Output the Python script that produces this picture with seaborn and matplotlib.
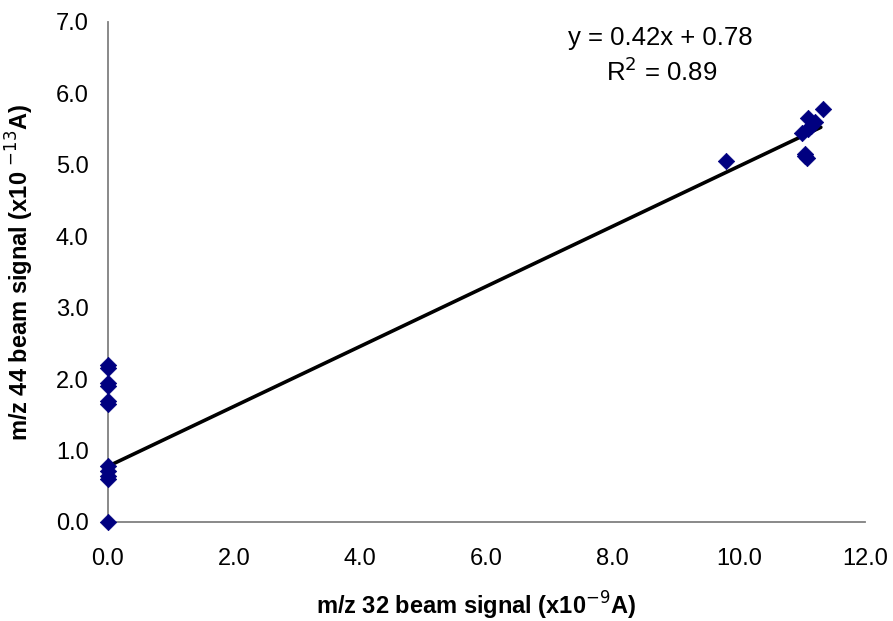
import matplotlib
matplotlib.use("Agg")
import matplotlib.pyplot as plt
import seaborn as sns
import numpy as np
import pandas as pd

# data
x_vals = [0.0, 0.0, 0.0, 0.0, 0.0, 0.0, 0.0, 0.0, 0.0, 0.0, 0.0,
          9.80, 11.33, 11.10, 11.20, 11.15, 11.00, 11.05, 11.08, 11.10, 11.05]
y_vals = [2.20, 2.15, 1.95, 1.90, 1.70, 1.65, 0.78, 0.72, 0.65, 0.60, 0.00,
          5.05, 5.78, 5.65, 5.60, 5.55, 5.45, 5.15, 5.10, 5.50, 5.12]
fit_slope = 0.42
fit_intercept = 0.78
fit_x = [0.0, 11.3]
x_ticks = [0, 2, 4, 6, 8, 10, 12]
y_ticks = [0, 1, 2, 3, 4, 5, 6, 7]

sns.set_theme(style="white")
plt.rcParams['font.family'] = ['Liberation Sans', 'DejaVu Sans']
plt.rcParams['text.color'] = 'black'
plt.rcParams['axes.labelcolor'] = 'black'

df = pd.DataFrame({"x": x_vals, "y": y_vals})
line_df = pd.DataFrame({"x": fit_x, "y": [fit_slope * v + fit_intercept for v in fit_x]})

fig = plt.figure(figsize=(8.93, 6.21), dpi=100)
ax = fig.add_axes([108/893, 1-522/621, (865-108)/893, (522-22)/621])

sns.lineplot(data=line_df, x="x", y="y", color="black", linewidth=2.6, ax=ax, zorder=2)
sns.scatterplot(data=df, x="x", y="y", marker="D", s=70, color="#000080",
                edgecolor="#000080", linewidth=0.5, ax=ax, zorder=3, clip_on=False)

ax.set_xlim(0, 12)
ax.set_ylim(0, 7)
ax.set_xticks(x_ticks)
ax.set_yticks(y_ticks)
ax.set_xticklabels([f"{v:.1f}" for v in x_ticks], fontsize=17)
ax.set_yticklabels([f"{v:.1f}" for v in y_ticks], fontsize=17)

for s in ["top", "right"]:
    ax.spines[s].set_visible(False)
for s in ["left", "bottom"]:
    ax.spines[s].set_color("#808080")
    ax.spines[s].set_linewidth(1.3)
ax.tick_params(axis="both", which="major", direction="out", length=7, width=1.2,
               color="#808080", labelcolor="black", pad=7)
ax.tick_params(axis="x", pad=12)

ax.set_xlabel("m/z 32 beam signal (x10$^{-9}$A)", fontsize=17, fontweight="bold", labelpad=16)
ax.xaxis.set_label_coords(0.487, -0.136)
ax.set_ylabel("m/z 44 beam signal (x10 $^{-13}$A)", fontsize=17, fontweight="bold", labelpad=14)

ax.text(8.76, 6.78, "y = 0.42x + 0.78", ha="center", va="center", fontsize=18.5)
ax.text(8.78, 6.31, "R$^2$ = 0.89", ha="center", va="center", fontsize=18.5)

fig.savefig("out.png", dpi=100, facecolor="white")
